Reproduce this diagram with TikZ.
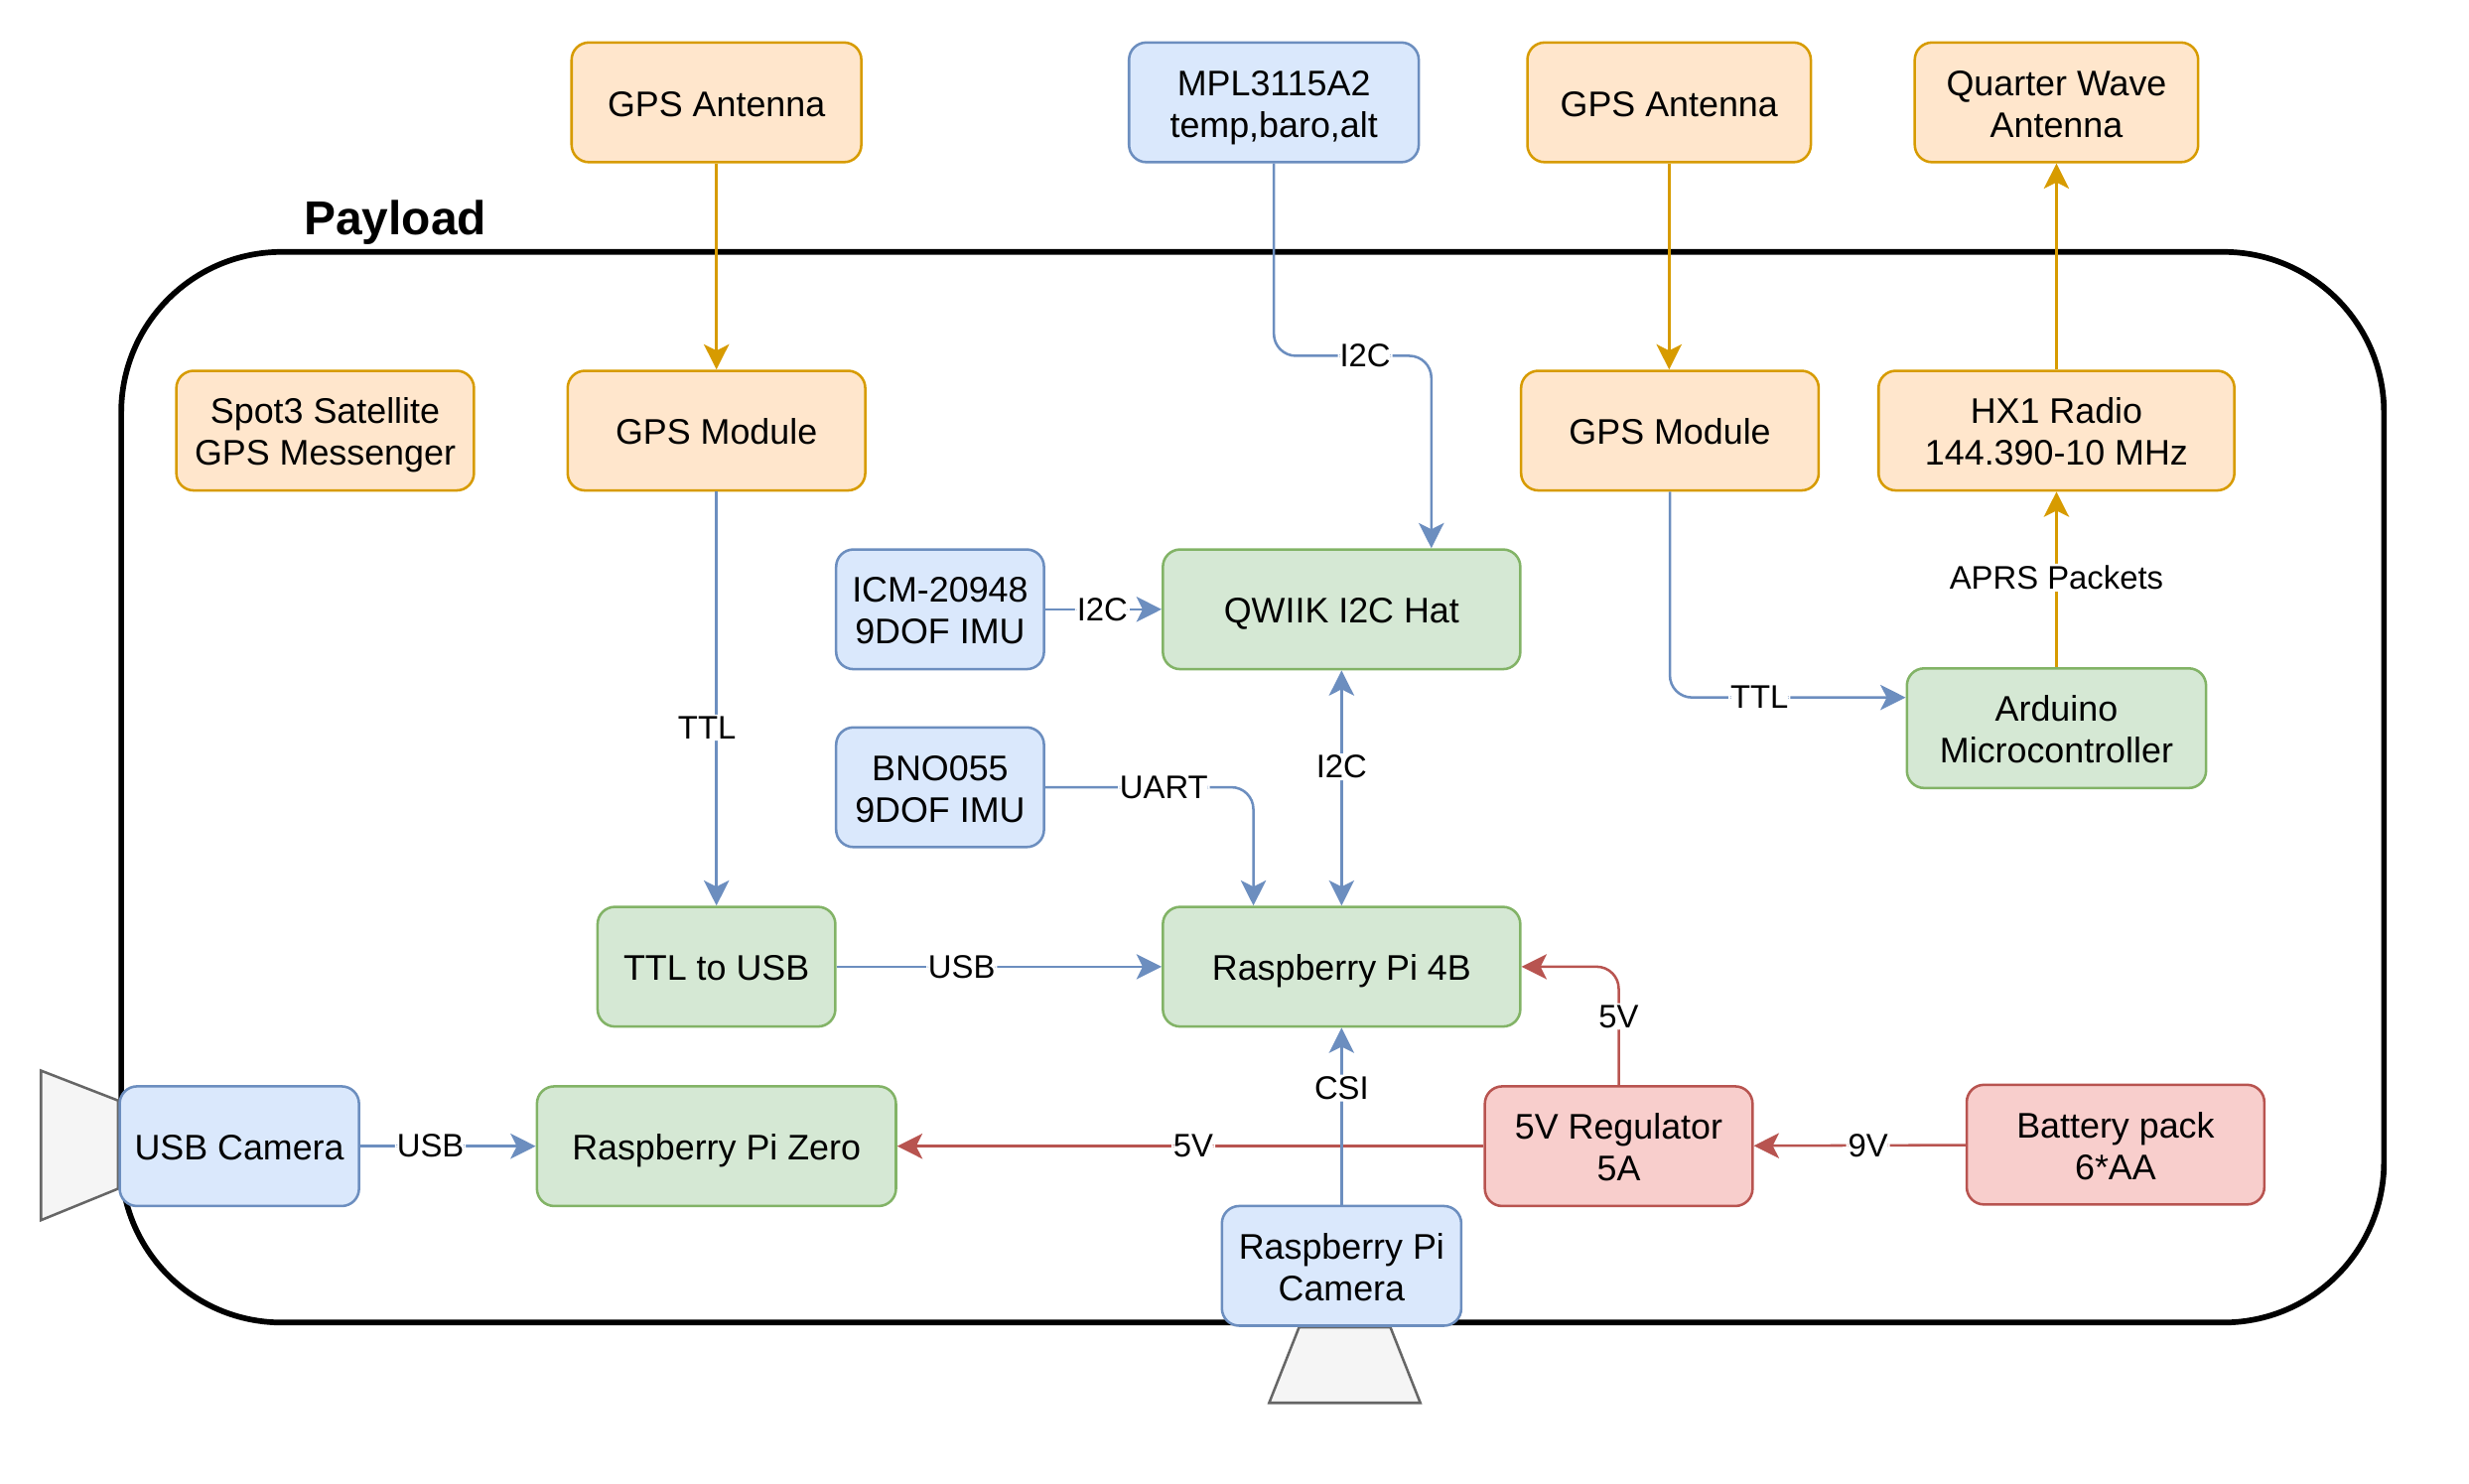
\documentclass[tikz,border=0pt]{standalone}
\usepackage{fontspec}
\setmainfont{Liberation Sans}
\usetikzlibrary{arrows.meta,calc}
\definecolor{orangefill}{HTML}{FFE6CC}
\definecolor{orangeline}{HTML}{D79B00}
\definecolor{bluefill}{HTML}{DAE8FC}
\definecolor{blueline}{HTML}{6C8EBF}
\definecolor{greenfill}{HTML}{D5E8D4}
\definecolor{greenline}{HTML}{82B366}
\definecolor{redfill}{HTML}{F8CECC}
\definecolor{redline}{HTML}{B85450}
\definecolor{greyfill}{HTML}{F5F5F5}
\definecolor{greyline}{HTML}{666666}

\begin{document}
\begin{tikzpicture}[yscale=-1, x=0.5pt, y=0.5pt, >={Stealth[length=8pt,width=8pt,inset=2pt]},
  every node/.style={font=\fontsize{11.3}{13.25}\selectfont, align=center},
  box/.style={draw, rounded corners=5.5pt, line width=0.8pt, minimum height=38pt, inner sep=0pt,
    text height=8.9pt, text depth=0pt},
  twoline/.style={text height=22.15pt},
  orangebox/.style={box, draw=orangeline, fill=orangefill},
  bluebox/.style={box, draw=blueline, fill=bluefill},
  greenbox/.style={box, draw=greenline, fill=greenfill},
  redbox/.style={box, draw=redline, fill=redfill},
  lens/.style={draw=greyline, fill=greyfill, line width=0.8pt},
  wire/.style={->, line width=0.8pt, rounded corners=7pt},
  lbl/.style={fill=white, inner sep=0.6pt, text=black, font=\fontsize{10.35}{12}\selectfont}]
\useasboundingbox (0,0) rectangle (1568,942);

\draw[line width=1.8pt, rounded corners=51pt] (77,160) rectangle (1514,840);
\node[font=\fontsize{15.1}{17}\selectfont\bfseries] (payload) at (251,141) {Payload};

\draw[lens] (26,680) -- (75,699) -- (75,755) -- (26,775) -- cycle;
\draw[lens] (825,843) -- (883,843) -- (902,891) -- (806,891) -- cycle;

\node[orangebox, minimum width=92pt] (ant1) at (455,65) {GPS Antenna};
\node[bluebox, twoline, minimum width=92pt] (mpl) at (809,65) {MPL3115A2\\temp,baro,alt};
\node[orangebox, minimum width=90pt] (ant2) at (1060,65) {GPS Antenna};
\node[orangebox, twoline, minimum width=90pt] (quarter) at (1306,65) {Quarter Wave\\Antenna};
\node[orangebox, twoline, minimum width=94.5pt] (spot) at (206.5,273.5) {Spot3 Satellite\\GPS Messenger};
\node[orangebox, minimum width=94.5pt] (gps1) at (455,273.5) {GPS Module};
\node[orangebox, minimum width=94.5pt] (gps2) at (1060.5,273.5) {GPS Module};
\node[orangebox, twoline, minimum width=113pt] (radio) at (1306,273.5) {HX1 Radio\\144.390-10 MHz};
\node[bluebox, twoline, minimum width=66pt] (icm) at (597,387) {ICM-20948\\9DOF IMU};
\node[greenbox, minimum width=113.5pt] (qwiik) at (852,387) {QWIIK I2C Hat};
\node[bluebox, twoline, minimum width=66pt] (bno) at (597,500) {BNO055\\9DOF IMU};
\node[greenbox, twoline, minimum width=95pt] (arduino) at (1306,462.5) {Arduino\\Microcontroller};
\node[greenbox, minimum width=75.5pt] (ttl) at (455,614) {TTL to USB};
\node[greenbox, minimum width=113.5pt] (pi4) at (852,614) {Raspberry Pi 4B};
\node[bluebox, minimum width=76pt] (usbcam) at (152,728) {USB Camera};
\node[greenbox, minimum width=114pt] (pizero) at (455,728) {Raspberry Pi Zero};
\node[redbox, twoline, minimum width=85pt] (reg) at (1028,728) {5V Regulator\\5A};
\node[redbox, twoline, minimum width=94.5pt] (battery) at (1343.5,727) {Battery pack\\6*AA};
\node[bluebox, twoline, minimum width=76pt] (picam) at (852,804) {Raspberry Pi\\Camera};

\coordinate (mplbend) at (909,226);
\coordinate (unobend) at (796,500);
\coordinate (regbend) at (1028,614);
\coordinate (ardbend) at (1060.5,443);

\draw[wire, orangeline] (ant1) -- (gps1);
\draw[wire, orangeline] (ant2.south) -- (gps2.north -| ant2);
\draw[wire, orangeline] (arduino) -- node[lbl, pos=0.51] (aprs) {APRS Packets} (radio);
\draw[wire, orangeline] (radio) -- (quarter);

\draw[wire, blueline] (mpl.south) |- (mplbend) node[lbl, pos=0.79] (i2ca) {I2C} -- (qwiik.north -| mplbend);
\draw[wire, blueline] (icm) -- node[lbl, pos=0.49] (i2cb) {I2C} (qwiik);
\draw[wire, blueline, <->] (qwiik) -- node[lbl, pos=0.41] (i2cc) {I2C} (pi4);
\draw[wire, blueline] (bno.east |- unobend) -- (unobend) node[lbl, pos=0.57] (uart) {UART} -- (pi4.north -| unobend);
\draw[wire, blueline] (gps1) -- node[lbl, xshift=-3pt, pos=0.57] (ttla) {TTL} (ttl);
\draw[wire, blueline] (gps2.south) |- (arduino.west |- ardbend) node[lbl, pos=0.69] (ttlb) {TTL};
\draw[wire, blueline] (ttl) -- node[lbl, pos=0.385] (usba) {USB} (pi4);
\draw[wire, blueline] (usbcam) -- node[lbl, pos=0.4] (usbb) {USB} (pizero);

\draw[wire, redline] (reg) -- node[lbl, pos=0.495] (fivea) {5V} (pizero);
\draw[wire, redline] (reg.north) |- (pi4.east |- regbend) node[lbl, pos=0.29] (fiveb) {5V};
\draw[wire, redline] (battery) -- node[lbl, pos=0.46] (nine) {9V} (reg);

\draw[wire, blueline] (picam) -- node[lbl, pos=0.66] (csi) {CSI} (pi4);
\end{tikzpicture}
\end{document}
